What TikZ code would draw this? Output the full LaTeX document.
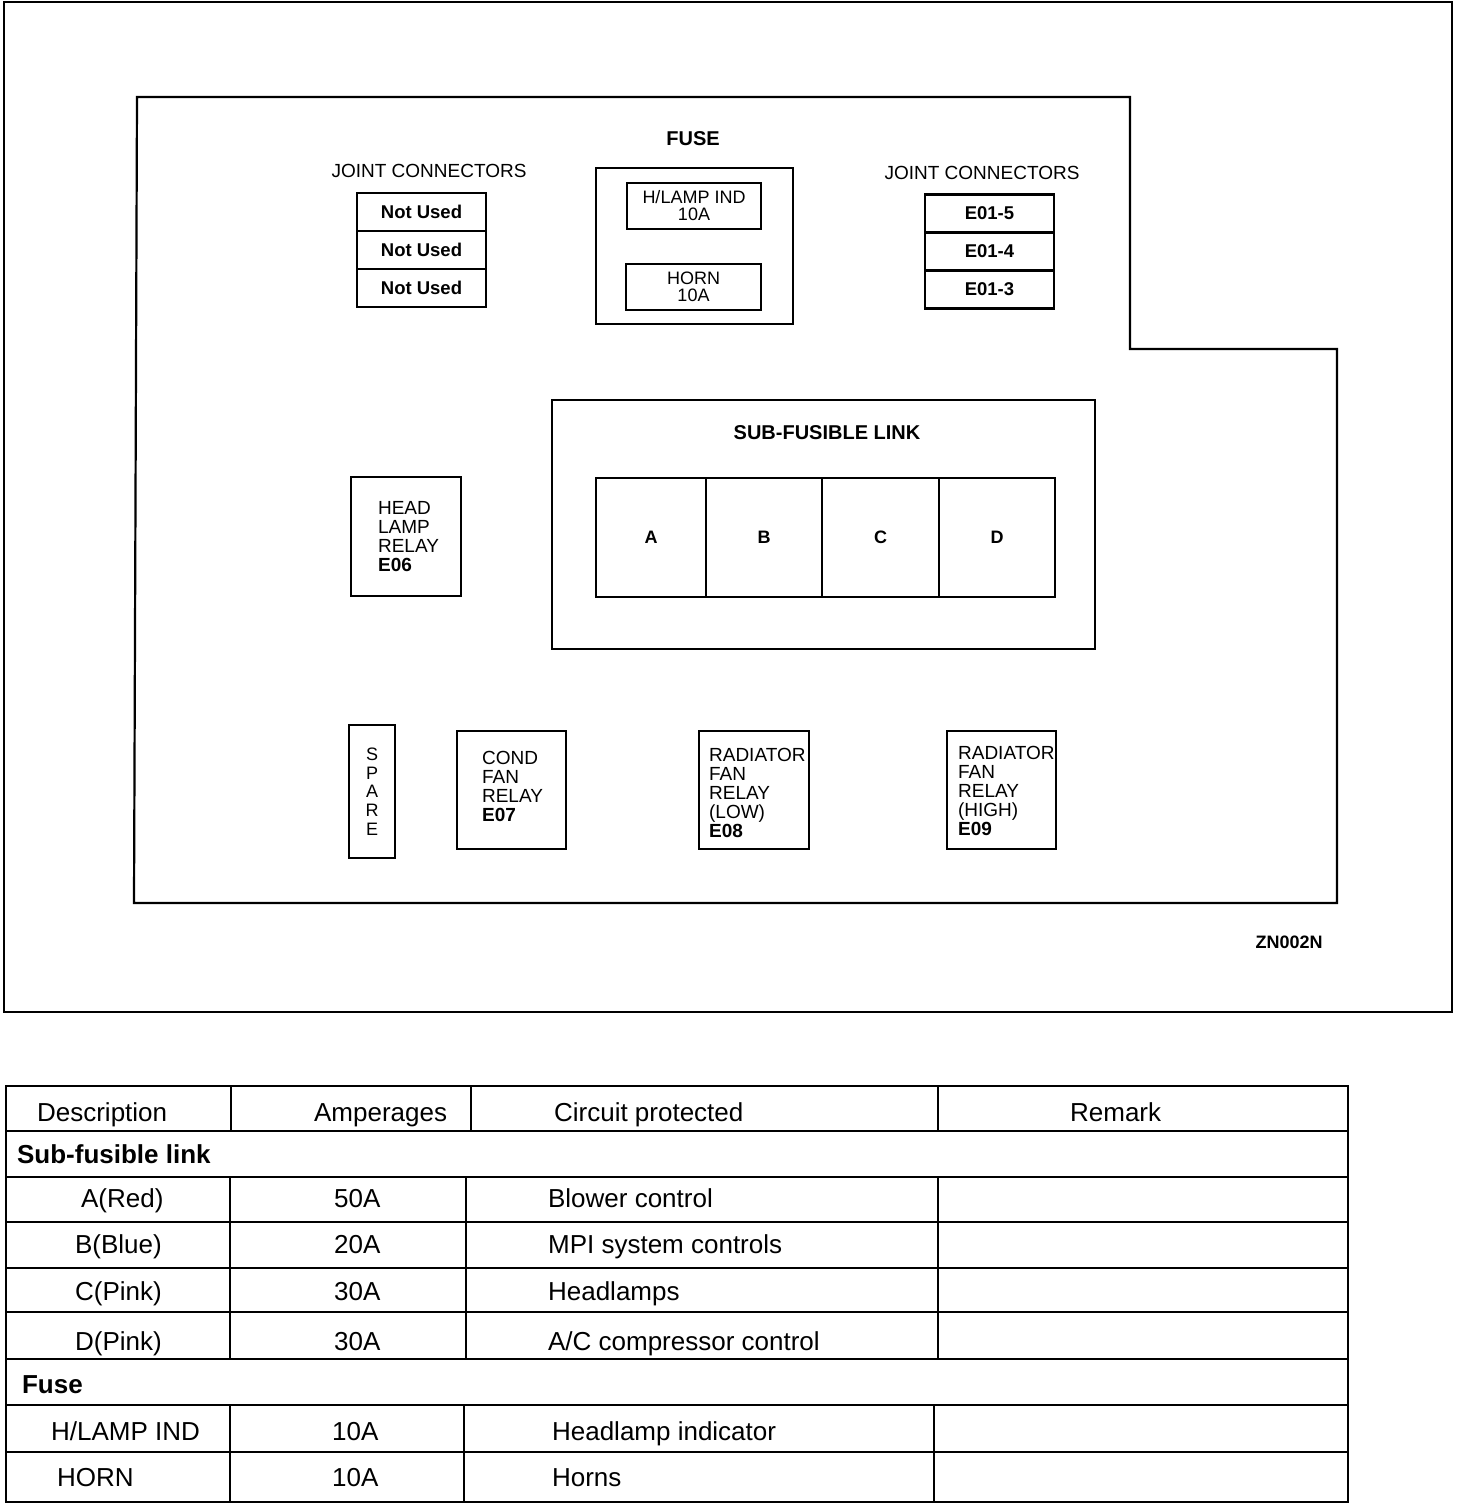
\documentclass[tikz,border=0pt]{standalone}
\usepackage{fontspec}
\setmainfont{Liberation Sans}
\usetikzlibrary{positioning}

\begin{document}
\begin{tikzpicture}[x=1pt,y=-1pt,line width=2.2pt,
  box/.style={draw,inner sep=0pt,outer sep=0pt},
  lbl/.style={inner sep=0pt,font=\fontsize{19}{19}\selectfont},
  blbl/.style={inner sep=0pt,font=\bfseries\fontsize{20}{20}\selectfont},
  cell/.style={box,minimum width=129pt,minimum height=38pt,font=\bfseries\fontsize{18.5}{18}\selectfont},
  fusebox/.style={box,minimum width=134pt,minimum height=46pt,align=center,font=\fontsize{18}{17}\selectfont},
  linkcell/.style={box,minimum height=119pt,font=\bfseries\fontsize{18}{18}\selectfont},
  relay/.style={box,minimum width=110pt,minimum height=119pt},
  tab/.style={inner sep=0pt,anchor=base west,font=\fontsize{26}{28}\selectfont},
  btab/.style={tab,font=\bfseries\fontsize{26}{28}\selectfont}]
\path[use as bounding box] (0,0) rectangle (1472,1506);
% outer frame and box outline
\draw[line width=2pt] (4,2) rectangle (1452,1012);
\draw (137,97) -- (1130,97) -- (1130,349) -- (1337,349) -- (1337,903) -- (134,903) -- cycle;
% joint connectors, left
\node[lbl] (jcl) at (429,171) {JOINT CONNECTORS};
\node[cell] (jl1) at (421.5,212) {Not Used};
\node[cell,below=0pt of jl1] (jl2) {Not Used};
\node[cell,below=0pt of jl2] (jl3) {Not Used};
% fuse
\node[blbl] (fuse) at (693,139) {FUSE};
\node[box,minimum width=197pt,minimum height=156pt] (fuses) at (694.5,246) {};
\node[fusebox] (hlamp) at (694,206) {H/LAMP IND\\10A};
\node[fusebox,minimum width=135pt] (horn) at (693.5,287) {HORN\\10A};
% joint connectors, right
\node[lbl] (jcr) at (982,173) {JOINT CONNECTORS};
\node[cell] (jr1) at (989.5,213.5) {E01-5};
\node[cell,below=0pt of jr1] (jr2) {E01-4};
\node[cell,below=0pt of jr2] (jr3) {E01-3};
% sub-fusible link
\node[box,minimum width=543pt,minimum height=249pt] (sfl) at (823.5,524.5) {};
\node[blbl] (sfltxt) at (827,433) {SUB-FUSIBLE LINK};
\node[linkcell,minimum width=110pt] (la) at (651,537.5) {A};
\node[linkcell,minimum width=116pt,right=0pt of la] (lb) {B};
\node[linkcell,minimum width=117pt,right=0pt of lb] (lc) {C};
\node[linkcell,minimum width=116pt,right=0pt of lc] (ld) {D};
% relays
\node[relay] (hlr) at (406,536.5) {};
\node[lbl,align=left,anchor=west] (hlrt) at ([xshift=26pt]hlr.west) {HEAD\\LAMP\\RELAY\\\textbf{E06}};
\node[box,minimum width=46pt,minimum height=133pt] (spare) at (372,791.5) {};
\node[lbl,align=center,font=\fontsize{18}{18.75}\selectfont] (sparet) at (spare) {S\\P\\A\\R\\E};
\node[relay,minimum width=109pt,minimum height=118pt] (cfr) at (511.5,790) {};
\node[lbl,align=left,anchor=west] (cfrt) at ([xshift=24pt,yshift=4pt]cfr.west) {COND\\FAN\\RELAY\\\textbf{E07}};
\node[relay,minimum height=118pt] (rfl) at (754,790) {};
\node[lbl,align=left,anchor=west] (rflt) at ([xshift=9pt,yshift=-3pt]rfl.west) {RADIATOR\\FAN\\RELAY\\(LOW)\\\textbf{E08}};
\node[relay,minimum width=109pt,minimum height=118pt] (rfh) at (1001.5,790) {};
\node[lbl,align=left,anchor=west] (rfht) at ([xshift=10pt,yshift=-1pt]rfh.west) {RADIATOR\\FAN\\RELAY\\(HIGH)\\\textbf{E09}};
\node[inner sep=0pt,font=\bfseries\fontsize{18}{18}\selectfont] (code) at (1289,942) {ZN002N};
% table
\draw (6,1086) rectangle (1348,1502);
\foreach \y in {1131,1177,1222,1268,1312,1359,1405,1452}
  \draw (6,\y) -- (1348,\y);
\foreach \x in {231,471,938}
  \draw (\x,1086) -- (\x,1131);
\foreach \x in {230,466,938}
  \draw (\x,1177) -- (\x,1359);
\foreach \x in {230,464,934}
  \draw (\x,1405) -- (\x,1502);
\node[tab] (hdesc) at (36,1121) {Description};
\node[tab] (hamp) at (313,1121) {Amperages};
\node[tab] (hcirc) at (553,1121) {Circuit protected};
\node[tab] (hrem) at (1069,1121) {Remark};
\node[btab] (gsub) at (16,1163) {Sub-fusible link};
\node[tab] (da) at (80,1207) {A(Red)};
\node[tab] (aa) at (333,1207) {50A};
\node[tab] (ca) at (547,1207) {Blower control};
\node[tab] (db) at (74,1253) {B(Blue)};
\node[tab] (ab) at (333,1253) {20A};
\node[tab] (cb) at (547,1253) {MPI system controls};
\node[tab] (dc) at (74,1300) {C(Pink)};
\node[tab] (ac) at (333,1300) {30A};
\node[tab] (cc) at (547,1300) {Headlamps};
\node[tab] (dd) at (74,1350) {D(Pink)};
\node[tab] (ad) at (333,1350) {30A};
\node[tab] (cd) at (547,1350) {A/C compressor control};
\node[btab] (gfuse) at (21,1393) {Fuse};
\node[tab] (dhl) at (50,1440) {H/LAMP IND};
\node[tab] (ahl) at (331,1440) {10A};
\node[tab] (chl) at (551,1440) {Headlamp indicator};
\node[tab] (dho) at (56,1486) {HORN};
\node[tab] (aho) at (331,1486) {10A};
\node[tab] (cho) at (551,1486) {Horns};
\end{tikzpicture}
\end{document}
